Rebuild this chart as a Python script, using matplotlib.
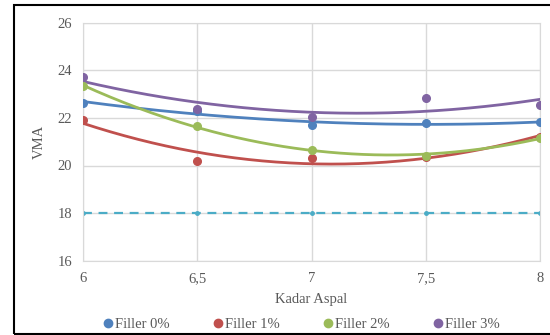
import numpy as np
import matplotlib
matplotlib.use("Agg")
import matplotlib.pyplot as plt
from matplotlib.patches import Rectangle
from matplotlib.lines import Line2D

x = [6, 6.5, 7, 7.5, 8]
xticklabels = ["6", "6,5", "7", "7,5", "8"]
filler0 = [22.64, 22.30, 21.70, 21.77, 21.83]
filler1 = [21.91, 20.21, 20.30, 20.35, 21.20]
filler2 = [23.34, 21.66, 20.65, 20.40, 21.17]
filler3 = [23.71, 22.36, 22.05, 22.82, 22.54]
limit = [18, 18, 18, 18, 18]
names = ["Filler 0%", "Filler 1%", "Filler 2%", "Filler 3%"]
colors = ["#4F81BD", "#C0504D", "#9BBB59", "#8064A2"]
series = [filler0, filler1, filler2, filler3]

plt.rcParams['font.family'] = ['Liberation Serif', 'DejaVu Serif']
fig = plt.figure(figsize=(5.5, 3.35), dpi=100)
ax = fig.add_axes([83/550, 1-260.7/335, (540-83)/550, (260.7-22.7)/335])

ax.plot(x, limit, color="#4BACC6", lw=1.6, ls=(0, (4, 3)), marker="o", ms=2.5, zorder=2)

xs = np.linspace(6, 8, 200)
handles = []
for vals, c, n in zip(series, colors, names):
    coef = np.polyfit(x, vals, 2)
    ax.plot(xs, np.polyval(coef, xs), color=c, lw=2, zorder=3)
    ax.plot(x, vals, 'o', color=c, ms=5.5, zorder=4)
    handles.append(Line2D([], [], marker='o', ls='none', color=c, ms=6, label=n))

ax.set_xlim(6, 8)
ax.set_ylim(16, 26)
ax.set_xticks(x)
ax.set_xticklabels(xticklabels)
ax.set_yticks([16, 18, 20, 22, 24, 26])
ax.grid(True, color="#D9D9D9", lw=1)
ax.set_axisbelow(True)
for s in ax.spines.values():
    s.set_color("#D9D9D9")
ax.tick_params(length=0, colors="#595959", labelsize=10.5, pad=8)
ax.set_xlabel("Kadar Aspal", color="#595959", fontsize=10.5, labelpad=6)
ax.set_ylabel("VMA", color="#595959", fontsize=10.5, labelpad=8)

fig.legend(handles=handles, loc="center", bbox_to_anchor=(300/550, 1-324/335), ncol=4,
           frameon=False, fontsize=10.5, labelcolor="#595959", handletextpad=0.0,
           columnspacing=2.8, handlelength=1.0)

fig.patches.append(Rectangle((13.5/550, 1.5/335), 1.0, (333.5-5)/335, transform=fig.transFigure,
                             fill=False, edgecolor="black", lw=1.5))

fig.savefig("out.png", dpi=100)
